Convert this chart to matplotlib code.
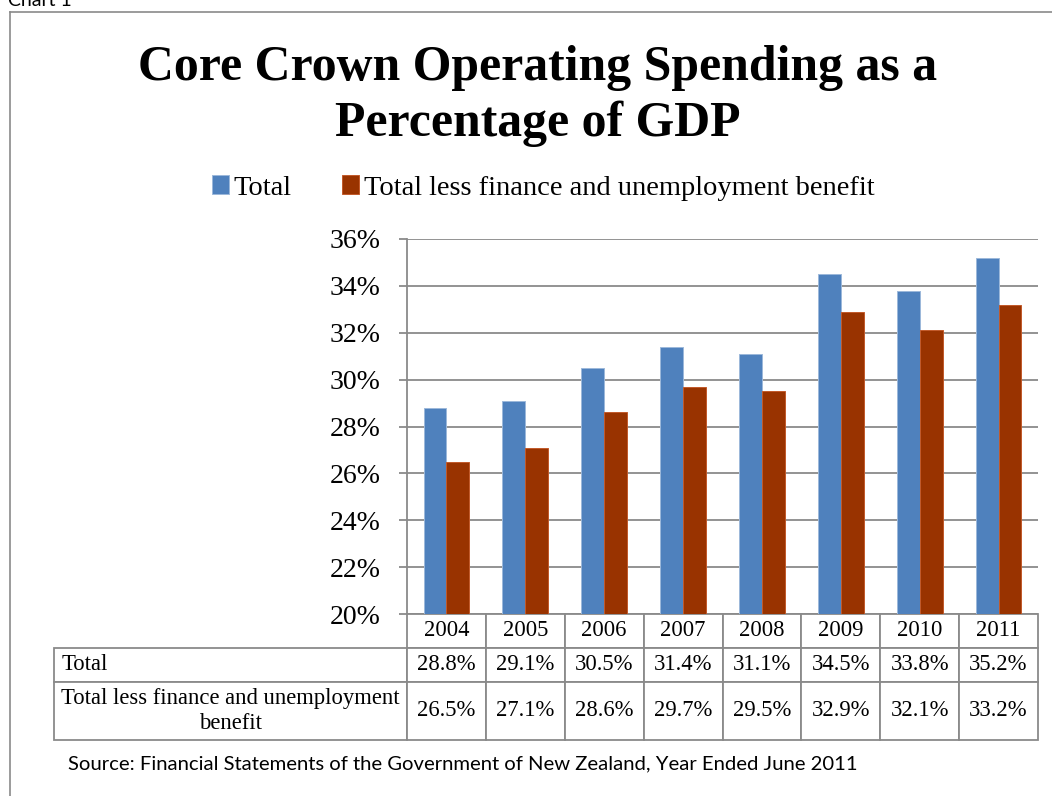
import matplotlib
matplotlib.use("Agg")
import matplotlib.pyplot as plt
from matplotlib.table import Table
from matplotlib.lines import Line2D

years = ["2004", "2005", "2006", "2007", "2008", "2009", "2010", "2011"]
total = [28.8, 29.1, 30.5, 31.4, 31.1, 34.5, 33.8, 35.2]
total_less = [26.5, 27.1, 28.6, 29.7, 29.5, 32.9, 32.1, 33.2]
series_names = ["Total", "Total less finance and unemployment benefit"]
row_labels = ["Total", "Total less finance and unemployment\nbenefit"]
y_ticks = [20, 22, 24, 26, 28, 30, 32, 34, 36]

W, H = 1052, 796
BLUE = "#4f81bd"
RED = "#993300"
GREY = "#8a8a8a"
SERIF = "Liberation Serif"


def fx(x):
    return x / W


def fy(y):
    # pixel rows are counted from the top
    return 1 - y / H


def main():
    fig = plt.figure(figsize=(W / 100, H / 100), dpi=100)

    # outer frame, only left and top edges show
    fig.add_artist(Line2D([fx(10), fx(10)], [fy(12), 0], color=GREY, lw=1.2))
    fig.add_artist(Line2D([fx(10), 1], [fy(12), fy(12)], color=GREY, lw=1.2))
    fig.text(fx(8), fy(6), "Chart 1", family="Lato", fontsize=14, va="baseline")

    fig.text(fx(538), fy(80), "Core Crown Operating Spending as a",
             family=SERIF, weight="bold", fontsize=35.8, ha="center", va="baseline")
    fig.text(fx(538), fy(136), "Percentage of GDP",
             family=SERIF, weight="bold", fontsize=35.8, ha="center", va="baseline")

    left, right, top, bottom = 407, 1038, 239, 614
    ax = fig.add_axes([fx(left), fy(bottom), fx(right - left), (bottom - top) / H])

    x = list(range(len(years)))
    w = 0.29
    b1 = ax.bar([i - w / 2 for i in x], [v - 20 for v in total], w, bottom=20,
                color=BLUE, edgecolor="#9cb8da", linewidth=0.7, zorder=3)
    b2 = ax.bar([i + w / 2 for i in x], [v - 20 for v in total_less], w, bottom=20,
                color=RED, edgecolor="#c25a2a", linewidth=0.7, zorder=3)

    ax.set_xlim(-0.5, len(years) - 0.5)
    ax.set_ylim(20, 36)
    ax.set_yticks(y_ticks)
    ax.set_yticklabels([f"{t}%" for t in y_ticks], family=SERIF, fontsize=20)
    ax.set_xticks([])
    ax.grid(axis="y", color=GREY, lw=1.3, zorder=0)
    for s in ["top", "right", "bottom"]:
        ax.spines[s].set_visible(False)
    ax.spines["left"].set_color(GREY)
    ax.spines["left"].set_linewidth(1.3)
    ax.tick_params(axis="y", direction="out", length=6, width=1.3, color=GREY, pad=13)

    fig.legend([b1, b2], series_names, loc="center", bbox_to_anchor=(fx(543), fy(188)),
               ncol=2, frameon=False, prop={"family": SERIF, "size": 20.5},
               handlelength=0.6, handleheight=0.6, handletextpad=0.15,
               columnspacing=1.8)

    # data table under the bars
    tleft = 54
    label_w = left - tleft
    col_w = (right - left) / len(years)
    row_h = [34, 34, 58]
    tbl = Table(ax, bbox=[(tleft - left) / (right - left), -(sum(row_h)) / (bottom - top),
                          (right - tleft) / (right - left), sum(row_h) / (bottom - top)])
    for j, yr in enumerate(years):
        tbl.add_cell(0, j + 1, col_w, row_h[0], text=yr, loc="center")
    for i, (lab, vals) in enumerate(zip(row_labels, [total, total_less])):
        c = tbl.add_cell(i + 1, 0, label_w, row_h[i + 1], text=lab,
                         loc="left" if i == 0 else "center")
        c.PAD = 0.022
        for j, v in enumerate(vals):
            tbl.add_cell(i + 1, j + 1, col_w, row_h[i + 1], text=f"{v:.1f}%", loc="center")
    tbl.auto_set_font_size(False)
    tbl.set_fontsize(16.3)
    for cell in tbl.get_celld().values():
        cell.set_edgecolor(GREY)
        cell.set_linewidth(1.3)
        cell.get_text().set_family(SERIF)
        cell.get_text().set_linespacing(1.2)
    ax.add_table(tbl)

    fig.text(fx(68), fy(769), "Source: Financial Statements of the Government of New Zealand, "
             "Year Ended June 2011", family="Lato", fontsize=14.6, va="baseline")

    fig.savefig("out.png", dpi=100)


if __name__ == "__main__":
    main()
